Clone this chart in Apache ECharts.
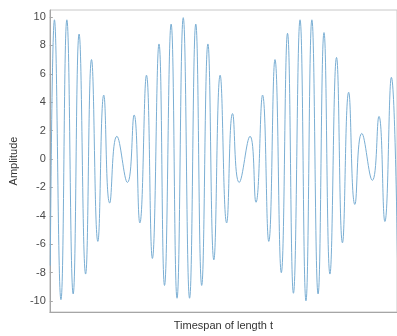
<!DOCTYPE html>
<html>
<head>
<meta charset="utf-8">
<script src="https://cdn.jsdelivr.net/npm/echarts@6/dist/echarts.min.js"></script>
<style>
html,body{margin:0;padding:0;background:#fff;}
#c{width:397px;height:336px;}
</style>
</head>
<body>
<div id="c"></div>
<script>
// time positions (arbitrary units along the timespan) of the curve's turning points
const times = [0.5, 4.7, 11.3, 17.3, 23.7, 29.7, 36.3, 42.3, 48.7, 54.7, 60.7, 68.0, 78.7, 85.5, 91.3, 98.0, 104.0, 110.7, 116.3, 123.0, 129.0, 135.3, 141.7, 148.0, 154.0, 160.3, 166.3, 172.7, 179.3, 185.3, 192.0, 203.0, 209.0, 215.7, 222.0, 228.3, 234.7, 241.0, 247.0, 253.7, 259.7, 265.7, 272.0, 278.0, 284.0, 290.7, 296.7, 303.0, 309.3, 316.3, 327.0, 333.7, 339.7, 346.3, 352.5];
// amplitude at those points
const amplitude = [-7.5, 9.8, -9.9, 9.8, -9.5, 8.8, -8.1, 7.0, -5.8, 4.5, -3.1, 1.6, -1.65, 3.1, -4.5, 5.9, -7.0, 8.1, -8.9, 9.5, -9.8, 9.95, -9.8, 9.5, -8.9, 8.1, -7.1, 5.9, -4.5, 3.2, -1.65, 1.6, -3.05, 4.5, -5.8, 7.0, -8.0, 8.85, -9.45, 9.8, -9.98, 9.8, -9.5, 8.9, -8.1, 7.15, -5.9, 4.7, -3.2, 1.8, -1.5, 3.0, -4.4, 5.75, -7.0];
const yTicks = [-10, -8, -6, -4, -2, 0, 2, 4, 6, 8, 10];
const xLabel = 'Timespan of length t';
const yLabel = 'Amplitude';

const data = times.map((t, i) => [t, amplitude[i]]);
const chart = echarts.init(document.getElementById('c'), null, {renderer: 'canvas'});
const axisGrey = '#a6a6a6';
const textGrey = '#4a4a4a';
chart.setOption({
  animation: false,
  backgroundColor: '#ffffff',
  grid: {left: 47, top: 10, width: 352, height: 304, show: true, borderColor: '#c8c8c8', borderWidth: 1, backgroundColor: 'transparent'},
  xAxis: {
    type: 'value', min: 0, max: 352,
    name: xLabel, nameLocation: 'middle', nameGap: 8,
    nameTextStyle: {fontFamily: 'Liberation Sans', fontSize: 11, color: '#333'},
    axisLine: {show: true, onZero: false, lineStyle: {color: axisGrey, width: 1}},
    axisTick: {show: false}, axisLabel: {show: false}, splitLine: {show: false}
  },
  yAxis: {
    type: 'value', min: -10.77, max: 10.49,
    name: yLabel, nameLocation: 'middle', nameGap: 28,
    nameTextStyle: {fontFamily: 'Liberation Sans', fontSize: 11, color: '#333'},
    axisLine: {show: true, onZero: false, lineStyle: {color: axisGrey, width: 1}},
    axisTick: {show: true, inside: true, length: 3, customValues: yTicks, lineStyle: {color: axisGrey}},
    axisLabel: {customValues: yTicks, fontFamily: 'Liberation Sans', fontSize: 11, color: textGrey, margin: 4},
    splitLine: {show: false}
  },
  series: [{
    type: 'line', data: data, smooth: 0.5, symbol: 'none',
    lineStyle: {color: '#7aaed3', width: 1}
  }]
});
</script>
</body>
</html>
